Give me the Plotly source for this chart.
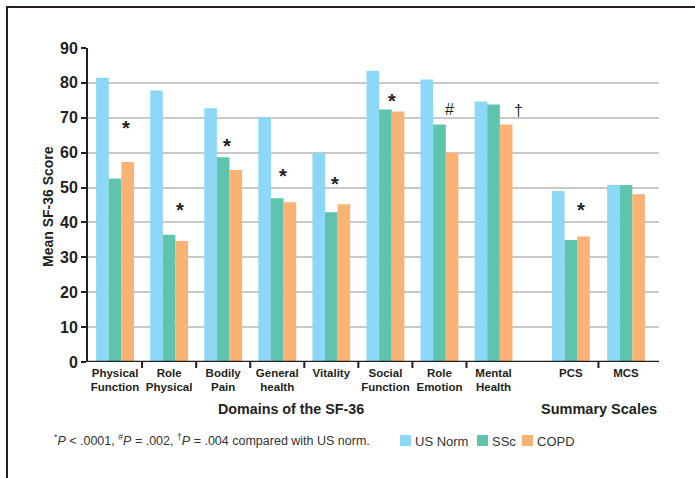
import plotly.graph_objects as go

# ---- data ----
categories = ["Physical<br>Function", "Role<br>Physical", "Bodily<br>Pain", "General<br>health",
              "Vitality", "Social<br>Function", "Role<br>Emotion", "Mental<br>Health", "PCS", "MCS"]
cat_pos = [0, 1, 2, 3, 4, 5, 6, 7, 8.43, 9.45]
us_norm = [81.5, 77.8, 72.7, 70.1, 60.0, 83.5, 81.0, 74.7, 49.0, 50.7]
ssc = [52.6, 36.5, 58.7, 46.9, 42.9, 72.4, 68.1, 73.8, 35.0, 50.7]
copd = [57.3, 34.7, 55.0, 45.8, 45.2, 71.8, 60.0, 68.1, 36.0, 48.1]
series_names = ["US Norm", "SSc", "COPD"]
colors = ["#8DD8F7", "#5EC4AE", "#FBB275"]
sig_marks = ["*", "*", "*", "*", "*", "*", "#", "\u2020", "*", ""]
sig_y = [68.0, 44.5, 62.8, 54.2, 51.9, 75.7, 72.5, 72.2, 44.5, 0]
sig_dx = [0.21, 0.20, 0.07, 0.10, 0.07, 0.13, 0.18, 0.46, 0.18, 0]
y_ticks = [0, 10, 20, 30, 40, 50, 60, 70, 80, 90]

FONT = "Liberation Sans, Arial, sans-serif"
TXT = "#231f20"

fig = go.Figure()
for name, vals, col in zip(series_names, [us_norm, ssc, copd], colors):
    fig.add_trace(go.Bar(x=cat_pos, y=vals, name=name, marker=dict(color=col, line=dict(width=0)),
                         showlegend=False))

W, H = 695, 478
ml, mr, mt, mb = 88, 36, 48, 116
pw, ph = W - ml - mr, H - mt - mb

def px_x(p):
    return (p - ml) / pw

def px_y(p):
    return (H - mb - p) / ph

fig.update_layout(
    width=W, height=H,
    margin=dict(l=ml, r=mr, t=mt, b=mb),
    paper_bgcolor="white", plot_bgcolor="white",
    barmode="group", bargap=0.3, bargroupgap=0,
    font=dict(family=FONT, color=TXT),
    xaxis=dict(range=[-0.5, 10.06], tickvals=cat_pos, ticktext=categories, ticks="",
               tickfont=dict(size=11.5, weight="bold", color=TXT), ticklabelstandoff=2,
               showgrid=False, zeroline=False, showline=False, fixedrange=True),
    yaxis=dict(range=[0, 90], tickvals=y_ticks, ticks="outside", ticklen=5, tickwidth=2,
               tickcolor=TXT, tickfont=dict(size=16, weight="bold", color=TXT),
               showgrid=True, gridcolor="#c9c9c9", gridwidth=1.5, zeroline=False,
               showline=True, linecolor=TXT, linewidth=2, fixedrange=True),
)

shapes = []
# x-axis baseline
shapes.append(dict(type="line", xref="paper", yref="y", x0=0, x1=1, y0=0, y1=0,
                   line=dict(color=TXT, width=2.5)))
# category boundary ticks
bounds = [i + 0.5 for i in range(7)] + [(cat_pos[8] + cat_pos[9]) / 2]
for b in bounds:
    shapes.append(dict(type="line", xref="x", yref="paper", x0=b, x1=b, y0=0, y1=-6 / ph,
                       line=dict(color=TXT, width=2)))
# outer frame (left and top)
shapes.append(dict(type="line", xref="paper", yref="paper", x0=px_x(7), x1=px_x(7),
                   y0=px_y(7), y1=px_y(480), line=dict(color=TXT, width=2)))
shapes.append(dict(type="line", xref="paper", yref="paper", x0=px_x(6), x1=px_x(700),
                   y0=px_y(7), y1=px_y(7), line=dict(color=TXT, width=2)))

annotations = []
for i, (m, yv, dx) in enumerate(zip(sig_marks, sig_y, sig_dx)):
    if not m:
        continue
    big = m == "*"
    annotations.append(dict(x=cat_pos[i] + dx, y=yv, xref="x", yref="y", text=m, showarrow=False,
                            xanchor="center", yanchor="middle",
                            font=dict(size=20 if big else 16, color=TXT,
                                      weight="bold" if big else "normal"),
                            yshift=-3 if big else 0))

def ann(x, y, text, size, bold=False, xanchor="center", angle=0, color=TXT):
    return dict(x=px_x(x), y=px_y(y), xref="paper", yref="paper", text=text, showarrow=False,
                xanchor=xanchor, yanchor="middle", textangle=angle,
                font=dict(size=size, color=color, weight="bold" if bold else "normal"))

annotations.append(ann(48, 207, "Mean SF-36 Score", 14, True, angle=-90))
annotations.append(ann(291, 409, "Domains of the SF-36", 14.3, True))
annotations.append(ann(599, 409, "Summary Scales", 14.5, True))
annotations.append(ann(52, 440, "<sup>*</sup><i>P</i> &lt; .0001, <sup>#</sup><i>P</i> = .002, "
                                 "<sup>\u2020</sup><i>P</i> = .004 compared with US norm.",
                       12.5, xanchor="left", color="#333333"))

# legend (manual)
leg_x = [400, 477, 522]
for lx, name, col in zip(leg_x, series_names, colors):
    shapes.append(dict(type="rect", xref="paper", yref="paper", x0=px_x(lx), x1=px_x(lx + 11),
                       y0=px_y(446), y1=px_y(435), fillcolor=col, line=dict(width=0)))
    annotations.append(ann(lx + 13, 441, name, 13, xanchor="left", color="#333333"))

fig.update_layout(shapes=shapes, annotations=annotations)
fig.write_html("out.html", config={"displayModeBar": False},
               post_script="document.body.style.margin='0';")
